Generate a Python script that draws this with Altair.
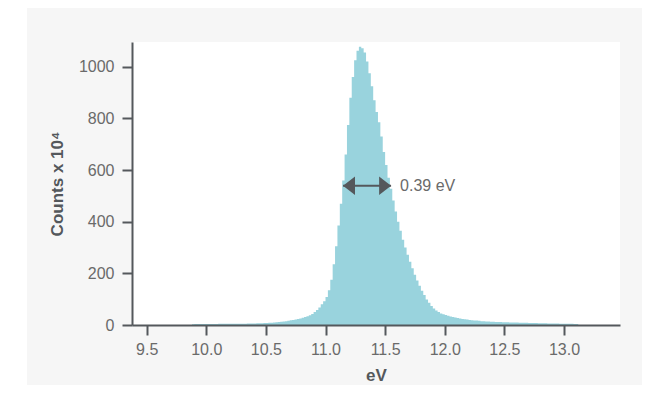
import altair as alt
import pandas as pd

# ---- data ----
BIN_START = 9.88
BIN_WIDTH = 0.02
counts = (
    [3, 4, 4, 4, 4, 4, 4, 4, 4, 4, 4]
    + [5] * 10
    + [5, 5, 6, 6, 6, 6, 7, 7, 7, 8]
    + [8, 9, 9, 10, 11]
    + [12, 13, 14, 15, 16]
    + [18, 19, 21, 23, 25]
    + [28, 31, 34, 38, 43]
    + [50, 58, 68, 80, 92]
    + [108, 135, 175, 235, 305]
    + [385, 470, 560, 660, 775]
    + [880, 960, 1025, 1062, 1078]
    + [1072, 1055, 1020, 975, 925]
    + [870, 825, 785, 730, 670]
    + [620, 570, 528, 482, 440]
    + [400, 365, 330, 300, 272]
    + [245, 220, 195, 172, 152]
    + [133, 116, 99, 86, 74]
    + [64, 56, 50, 45, 42]
    + [39, 36, 33, 31, 29]
    + [27, 25, 23, 22, 21]
    + [19, 18, 17, 17, 16]
    + [15, 15, 14, 14, 13]
    + [13, 12, 12, 12, 11]
    + [11, 11, 10, 10, 10]
    + [10, 9, 9, 9, 9]
    + [8, 8, 8, 8, 7]
    + [7, 7, 7, 6, 6]
    + [6, 6, 6, 5, 5]
    + [5, 5, 5, 5, 4]
    + [4]
)
x_ticks = [9.5, 10.0, 10.5, 11.0, 11.5, 12.0, 12.5, 13.0]
y_ticks = [0, 200, 400, 600, 800, 1000]
fwhm_left = 11.147
fwhm_right = 11.55
half_max = 539
fwhm_label = "0.39 eV"

X_DOMAIN = [9.377, 13.47]
Y_DOMAIN = [0, 1096]
W, H = 488, 283

FONT = "Liberation Sans"
BAR = "#99d3dd"
DARK = "#54585c"
LABEL = "#6a6a6a"

# step outline of the histogram: each bin's left edge, plus the final right edge
edges = [round(BIN_START + i * BIN_WIDTH, 4) for i in range(len(counts) + 1)]
hist = pd.DataFrame({"edge": edges, "count": counts + [counts[-1]]})

xscale = alt.Scale(domain=X_DOMAIN, nice=False, zero=False)
yscale = alt.Scale(domain=Y_DOMAIN, nice=False)

axis_common = dict(
    grid=False,
    zindex=1,
    domainColor=DARK,
    domainWidth=2,
    tickColor=DARK,
    tickWidth=2,
    tickSize=10,
    labelFont=FONT,
    labelFontSize=16,
    labelColor=LABEL,
    titleFont=FONT,
    titleFontSize=17,
    titleFontWeight="bold",
    titleColor=DARK,
)

one = pd.DataFrame({"a": [0]})

bg = alt.Chart(one).mark_rect(color="#f6f6f6").encode(
    x=alt.value(-105), x2=alt.value(W + 22), y=alt.value(-34), y2=alt.value(H + 60)
)
plot_bg = alt.Chart(one).mark_rect(color="white").encode(
    x=alt.value(0), x2=alt.value(W), y=alt.value(0), y2=alt.value(H)
)

bars = alt.Chart(hist).mark_area(color=BAR, interpolate="step-after", opacity=1).encode(
    x=alt.X(
        "edge:Q",
        scale=xscale,
        title="eV",
        axis=alt.Axis(values=x_ticks, format=".1f", labelPadding=6, titlePadding=10, **axis_common),
    ),
    y=alt.Y(
        "count:Q",
        scale=yscale,
        title="Counts x 10⁴",
        axis=alt.Axis(values=y_ticks, format="d", labelPadding=8, titlePadding=12, **axis_common),
    ),
)

arrow_df = pd.DataFrame({"x1": [fwhm_left], "x2": [fwhm_right], "y": [half_max], "label": [fwhm_label]})

arrow_line = alt.Chart(arrow_df).mark_rule(color=DARK, strokeWidth=2).encode(
    x=alt.X("x1:Q", scale=xscale), x2="x2:Q", y=alt.Y("y:Q", scale=yscale)
)
head_left = alt.Chart(arrow_df).mark_point(
    shape="M 0 0 L 1.3 -1 L 1.3 1 Z", filled=True, color=DARK, size=340, opacity=1
).encode(x=alt.X("x1:Q", scale=xscale), y=alt.Y("y:Q", scale=yscale))
head_right = alt.Chart(arrow_df).mark_point(
    shape="M 0 0 L -1.3 -1 L -1.3 1 Z", filled=True, color=DARK, size=340, opacity=1
).encode(x=alt.X("x2:Q", scale=xscale), y=alt.Y("y:Q", scale=yscale))
label = alt.Chart(arrow_df).mark_text(
    align="left", baseline="middle", dx=9, font=FONT, fontSize=16, color=LABEL
).encode(x=alt.X("x2:Q", scale=xscale), y=alt.Y("y:Q", scale=yscale), text="label:N")

chart = (
    alt.layer(bg, plot_bg, bars, arrow_line, head_left, head_right, label)
    .properties(
        width=W,
        height=H,
        padding={"left": 19, "top": 0, "right": 0, "bottom": 0},
        background="white",
    )
    .configure_view(stroke=None, fill="white")
)

chart.save("out.html", embed_options={"renderer": "svg", "actions": False})
